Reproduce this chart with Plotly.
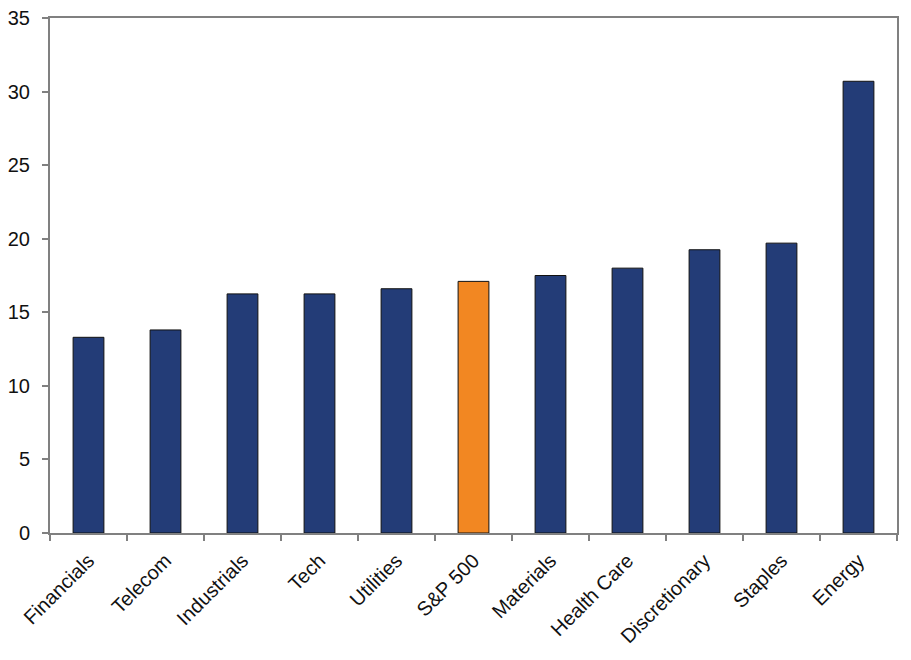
import plotly.graph_objects as go

categories = ["Financials", "Telecom", "Industrials", "Tech", "Utilities", "S&P 500",
              "Materials", "Health Care", "Discretionary", "Staples", "Energy"]
values = [13.3, 13.8, 16.25, 16.25, 16.6, 17.1, 17.5, 18.0, 19.25, 19.7, 30.7]
highlight = "S&P 500"

colors = ["#F28722" if c == highlight else "#233C77" for c in categories]

fig = go.Figure(go.Bar(
    x=categories, y=values,
    marker=dict(color=colors, line=dict(color="#111111", width=1)),
    width=0.4,
))

tickfont = dict(family="Liberation Sans, Arial, sans-serif", size=20, color="#111111")

fig.update_layout(
    width=911, height=660,
    margin=dict(l=50, r=14, t=18, b=127, autoexpand=False),
    paper_bgcolor="white", plot_bgcolor="white",
    showlegend=False,
    font=dict(family="Liberation Sans, Arial, sans-serif", size=20, color="#111111"),
)
fig.update_xaxes(
    showline=True, linecolor="#808080", linewidth=2, mirror=True,
    ticks="outside", ticklen=6, tickcolor="#808080", tickwidth=1.5,
    tickson="boundaries", tickangle=-45, showgrid=False,
    range=[-0.5, 10.5], tickfont=tickfont, automargin=False,
    ticklabelstandoff=6,
)
fig.update_yaxes(
    range=[0, 35], dtick=5,
    showline=True, linecolor="#808080", linewidth=2, mirror=True,
    ticks="outside", ticklen=6, tickcolor="#808080", tickwidth=1.5,
    showgrid=False, zeroline=False, tickfont=tickfont, automargin=False,
    ticklabelstandoff=8,
)

fig.write_html(
    "out.html",
    config={"displayModeBar": False},
    post_script="document.body.style.margin='0';document.body.style.overflow='hidden';",
)
